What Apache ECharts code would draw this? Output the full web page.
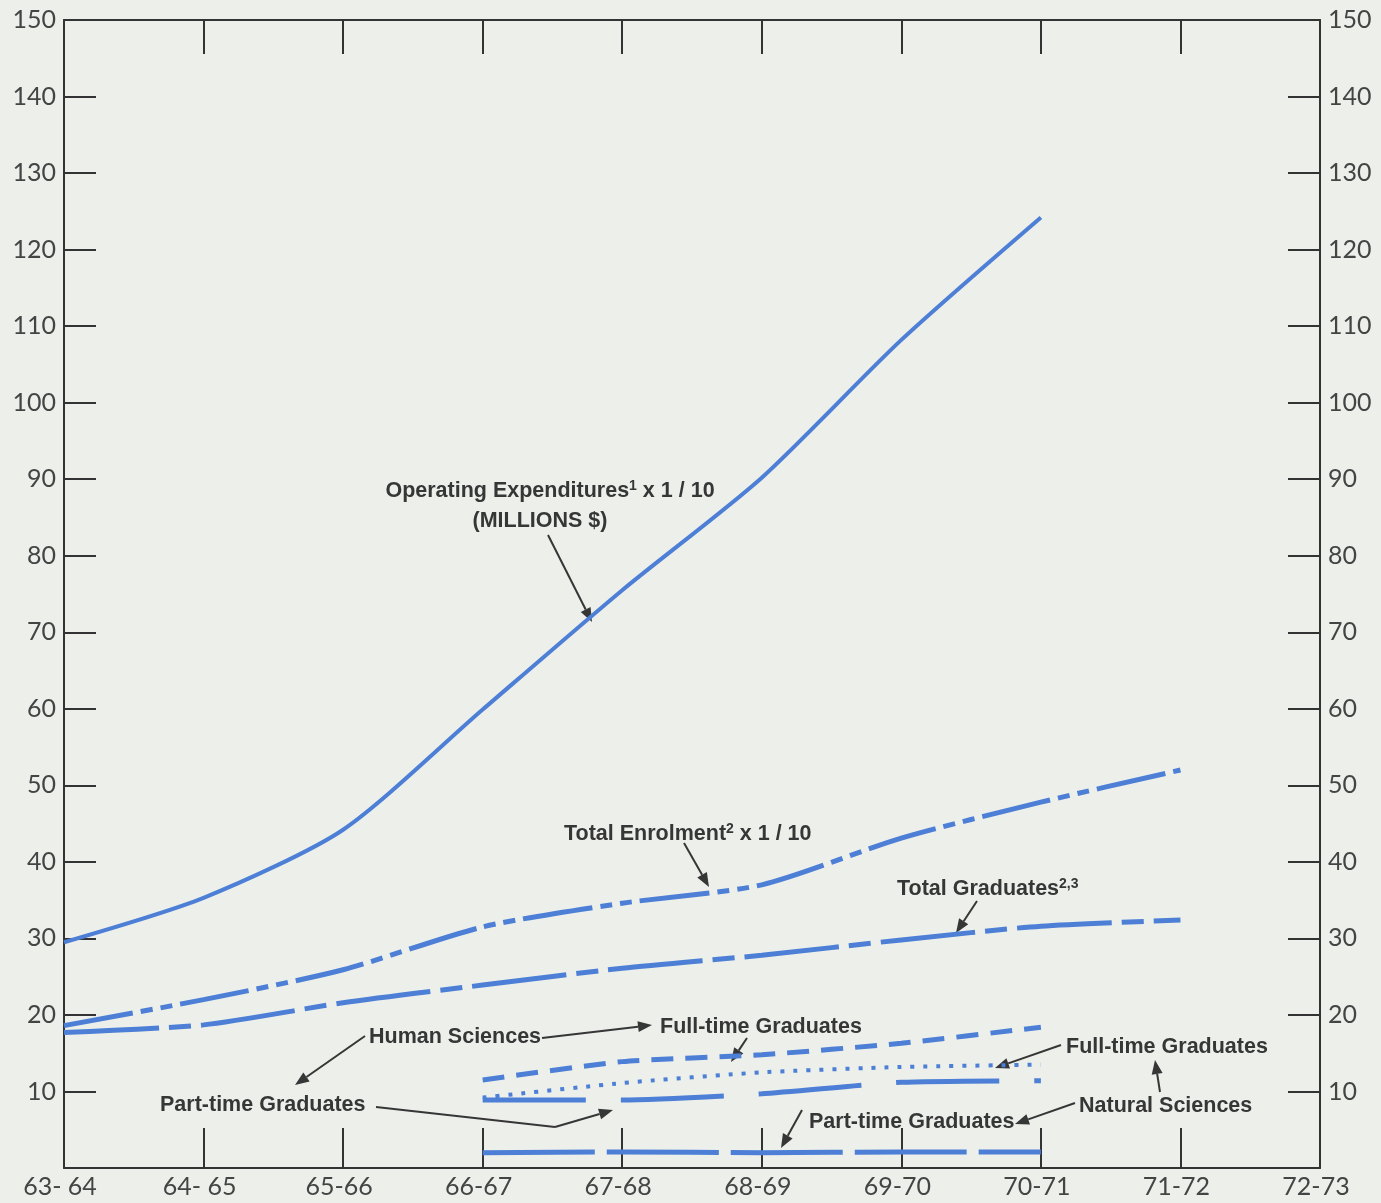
<!DOCTYPE html>
<html>
<head>
<meta charset="utf-8">
<script src="https://cdn.jsdelivr.net/npm/echarts@6/dist/echarts.min.js"></script>
<style>
  html, body { margin: 0; padding: 0; background: #edefeb; }
  #chartmain { width: 1381px; height: 1203px; }
</style>
</head>
<body>
<div id="chartmain"></div>
<script>
// school years
var years = ['63- 64', '64- 65', '65-66', '66-67', '67-68', '68-69', '69-70', '70-71', '71-72', '72-73'];

// values
var operatingExp   = [29.5, 35.3, 44.2, 59.9, 75.5, 90.2, 108.2, 124.2, '-', '-'];
var totalEnrolment = [18.6, 22.0, 25.9, 31.5, 34.6, 37.0, 43.1, 47.8, 52.0, '-'];
var totalGrads     = [17.7, 18.7, 21.6, 23.9, 26.1, 27.8, 29.8, 31.6, 32.4, '-'];
var humanFull      = ['-', '-', '-', 11.5, 13.9, 14.8, 16.3, 18.4, '-', '-'];
var naturalFull    = ['-', '-', '-', 9.2, 11.1, 12.5, 13.2, 13.5, '-', '-'];
var humanPart      = ['-', '-', '-', 8.9, 8.9, 9.7, 11.2, 11.4, '-', '-'];
var naturalPart    = ['-', '-', '-', 2.0, 2.1, 2.0, 2.1, 2.1, '-', '-'];

var blue = '#4c7fd5';
var ink = '#363636';
var axisFont = 'Lato, "DejaVu Sans", sans-serif';
var noteFont = 'bold 21.5px "Liberation Sans", Arial, sans-serif';

//线条样式
function lineSeries(name, data, width, dash, smooth) {
    return {
        name: name,
        type: 'line',
        data: data,
        symbol: 'none',
        smooth: smooth,
        connectNulls: false,
        lineStyle: { color: blue, width: width, type: dash, cap: 'butt' },
        silent: true
    };
}

//注释箭头
function arrow(x1, y1, x2, y2) {
    var a = Math.atan2(y2 - y1, x2 - x1), L = 14, W = 5.5;
    var bx = x2 - L * Math.cos(a), by = y2 - L * Math.sin(a);
    return [
        { type: 'line', shape: { x1: x1, y1: y1, x2: bx, y2: by }, style: { stroke: ink, lineWidth: 2 } },
        { type: 'polygon', shape: { points: [[x2, y2],
            [bx + W * Math.sin(a), by - W * Math.cos(a)],
            [bx - W * Math.sin(a), by + W * Math.cos(a)]] }, style: { fill: ink } }
    ];
}
function note(x, y, text, align) {
    return { type: 'text', x: x, y: y, style: {
        text: text, font: noteFont, fill: ink, align: align || 'left', verticalAlign: 'middle',
        rich: { s: { font: 'bold 14px "Liberation Sans", Arial, sans-serif', fill: ink, verticalAlign: 'top', padding: [0, 0, 9, 0] } }
    } };
}

var graphics = [];
graphics.push(note(550, 491, 'Operating Expenditures{s|1} x 1 / 10', 'center'));
graphics.push(note(540, 521, '(MILLIONS $)', 'center'));
graphics = graphics.concat(arrow(548, 535, 592, 622));
graphics.push(note(564, 834, 'Total Enrolment{s|2} x 1 / 10'));
graphics = graphics.concat(arrow(684, 843, 709, 887));
graphics.push(note(897, 889, 'Total Graduates{s|2,3}'));
graphics = graphics.concat(arrow(977, 901, 956, 933));
graphics.push(note(369, 1037, 'Human Sciences'));
graphics = graphics.concat(arrow(365, 1036, 295, 1085));
graphics = graphics.concat(arrow(542, 1038, 652, 1025));
graphics.push(note(660, 1027, 'Full-time Graduates'));
graphics = graphics.concat(arrow(747, 1038, 731, 1062));
graphics.push(note(160, 1105, 'Part-time Graduates'));
graphics.push({ type: 'line', shape: { x1: 376, y1: 1107, x2: 555, y2: 1127 }, style: { stroke: ink, lineWidth: 2 } });
graphics = graphics.concat(arrow(555, 1127, 613, 1110));
graphics.push(note(1066, 1047, 'Full-time Graduates'));
graphics = graphics.concat(arrow(1061, 1045, 995, 1068));
graphics.push(note(1079, 1106, 'Natural Sciences'));
graphics = graphics.concat(arrow(1160, 1092, 1155, 1060));
graphics = graphics.concat(arrow(1075, 1103, 1015, 1124));
graphics.push(note(809, 1122, 'Part-time Graduates'));
graphics = graphics.concat(arrow(802, 1110, 781, 1148));

var yAxisBase = {
    type: 'value', min: 0, max: 150, interval: 10,
    axisLine: { show: true, onZero: false, lineStyle: { color: '#333', width: 2 } },
    axisTick: { show: true, inside: true, length: 32, lineStyle: { color: '#333', width: 2 } },
    splitLine: { show: false },
    axisLabel: { color: '#444', fontSize: 25, fontFamily: axisFont, margin: 8,
        formatter: function (v) { return v === 0 ? '' : v; } }
};

var option = {
    backgroundColor: '#edefeb',
    animation: false,
    grid: { left: 64, right: 61, top: 20, bottom: 35 },
    xAxis: [{
        type: 'category', data: years, boundaryGap: false, position: 'bottom',
        axisLine: { onZero: false, lineStyle: { color: '#333', width: 2 } },
        axisTick: { inside: true, length: 40, lineStyle: { color: '#333', width: 2 } },
        splitLine: { show: false },
        axisLabel: { color: '#444', fontSize: 25, fontFamily: axisFont, margin: 6, padding: [0, 8, 0, 0] }
    }, {
        type: 'category', data: years, boundaryGap: false, position: 'top',
        axisLine: { onZero: false, lineStyle: { color: '#333', width: 2 } },
        axisTick: { inside: true, length: 34, lineStyle: { color: '#333', width: 2 } },
        splitLine: { show: false },
        axisLabel: { show: false }
    }],
    yAxis: [
        Object.assign({}, yAxisBase, { position: 'left' }),
        Object.assign({}, yAxisBase, { position: 'right' })
    ],
    series: [
        lineSeries('Operating Expenditures', operatingExp, 4, 'solid', 0.25),
        lineSeries('Total Enrolment', totalEnrolment, 5, [70, 8, 12, 8, 12, 8], 0.25),
        lineSeries('Total Graduates', totalGrads, 5, [95, 10, 22, 10], 0.25),
        lineSeries('Human Sciences Full-time', humanFull, 5, [22, 12], 0.2),
        lineSeries('Natural Sciences Full-time', naturalFull, 4, [4, 9], 0.2),
        lineSeries('Human Sciences Part-time', humanPart, 5, [103, 35], 0.2),
        lineSeries('Natural Sciences Part-time', naturalPart, 5, [112, 12], 0.2)
    ],
    graphic: graphics
};

var myChart = echarts.init(document.getElementById('chartmain'));
myChart.setOption(option);
</script>
</body>
</html>
